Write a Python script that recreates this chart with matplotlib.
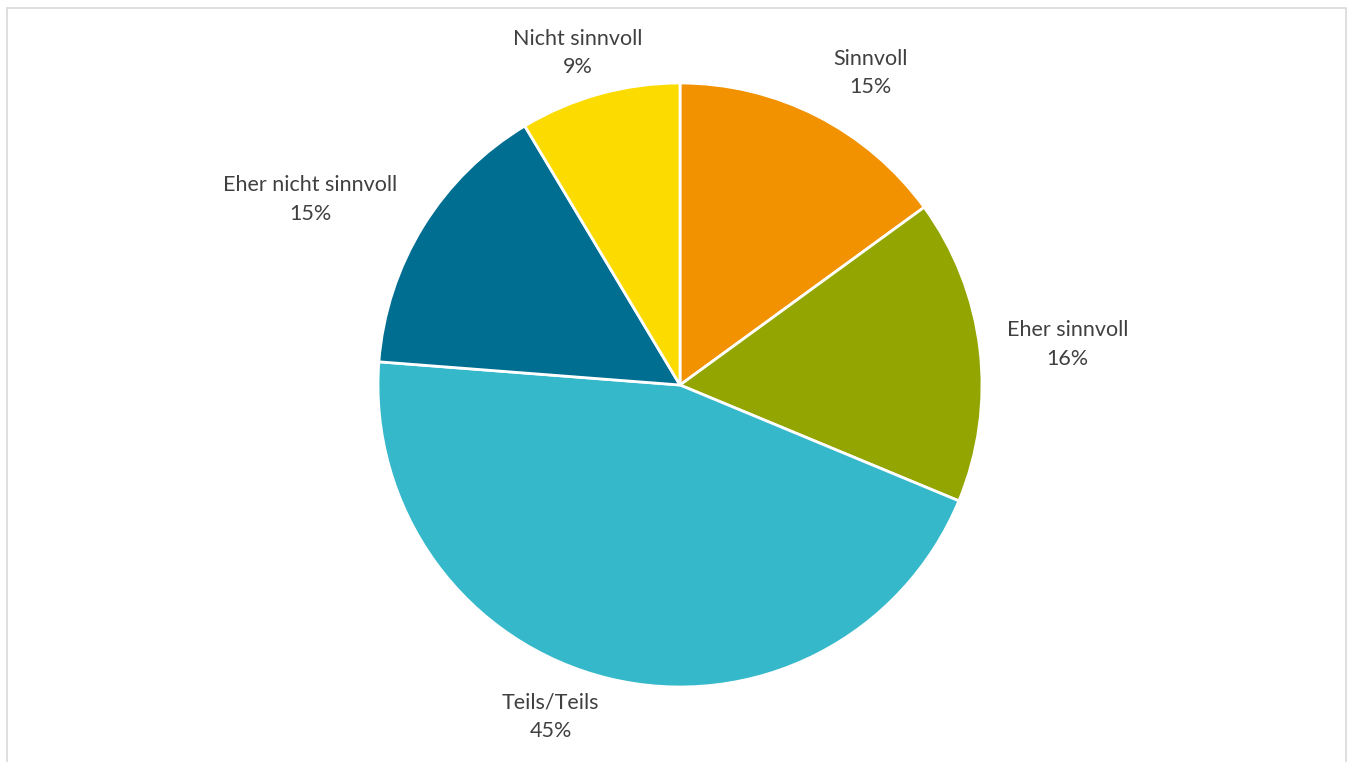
#!/usr/bin/python3

import matplotlib
matplotlib.use('Agg')
import matplotlib.pyplot as plt
from matplotlib.patches import Rectangle
import numpy as np

# data, clockwise from 12 o'clock
categories = ['Sinnvoll', 'Eher sinnvoll', 'Teils/Teils', 'Eher nicht sinnvoll', 'Nicht sinnvoll']
shares = [15.0, 16.3, 45.0, 15.2, 8.6]
shown_pct = [15, 16, 45, 15, 9]
colors = ['#F39200', '#92A500', '#35B8CA', '#006E90', '#FCDB00']

# label placement: (distance in radii, angle offset in degrees) per slice
label_pos = [(1.21, -4.4), (1.29, -0.8), (1.18, -7.8), (1.37, 5.1), (1.15, 1.6)]


def main():
	''' draws the pie and saves it'''

	plt.rcParams['font.family'] = ['Lato', 'DejaVu Sans']
	fig = plt.figure(figsize=(13.52, 7.62), dpi=100)
	ax = fig.add_axes([0, 0, 1, 1])

	wedges, _ = ax.pie(shares, colors=colors, startangle=90, counterclock=False,
		wedgeprops=dict(edgecolor='white', linewidth=2))

	for w, name, pct, (dist, off) in zip(wedges, categories, shown_pct, label_pos):
		mid = np.deg2rad((w.theta1 + w.theta2) / 2 + off)
		ax.text(dist * np.cos(mid), dist * np.sin(mid), f'{name}\n{pct}%',
			ha='center', va='center', fontsize=15.5, color='#404040', linespacing=1.55)

	# center pie at (680, 385) px with radius 302 px
	r = 302.0
	ax.set_xlim(-680 / r, (1352 - 680) / r)
	ax.set_ylim(-(762 - 385) / r, 385 / r)
	ax.set_aspect('equal')
	ax.axis('off')

	fig.patches.append(Rectangle((6.5 / 1352, -0.05), (1345.5 - 6.5) / 1352, 1.05 - 7.5 / 762,
		transform=fig.transFigure, fill=False, edgecolor='#D9D9D9', linewidth=1.2))

	fig.savefig('out.png', dpi=100)

	return


if __name__ == '__main__':
	main()
